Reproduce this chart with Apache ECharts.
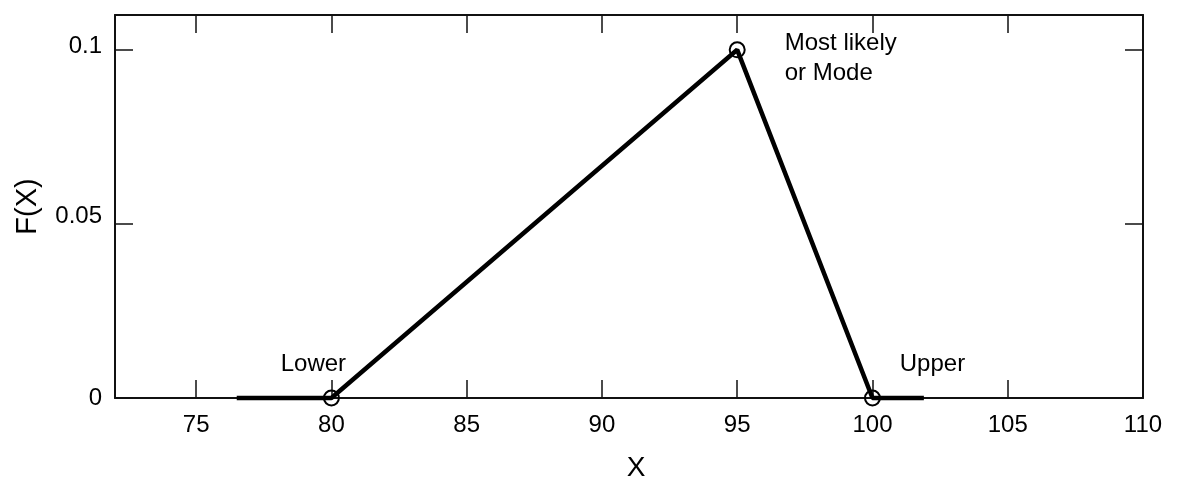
<!DOCTYPE html>
<html><head><meta charset="utf-8">
<script src="https://cdn.jsdelivr.net/npm/echarts@6/dist/echarts.min.js"></script>
<style>html,body{margin:0;padding:0;background:#fff}#c{width:1181px;height:481px}</style>
</head><body><div id="c"></div>
<script>
const xValues = [76.5, 80, 95, 100, 101.9];
const yValues = [0, 0, 0.1, 0, 0];
const pointLabels = ['', 'Lower', 'Most likely\nor Mode', 'Upper', ''];
const xTicks = [75, 80, 85, 90, 95, 100, 105, 110];
const yTicks = [0, 0.05, 0.1];
const yTickLabels = ['0', '0.05', '0.1'];

const font = 'Liberation Sans, Arial, Helvetica, sans-serif';
const labelCfg = [
  null,
  {position: 'top', offset: [-18, -8]},
  {position: 'right', distance: 39, offset: [0, 9], align: 'left', lineHeight: 30},
  {position: 'top', offset: [60, -8]},
  null
];
const data = xValues.map((x, i) => {
  const d = {value: [x, yValues[i]]};
  if (!pointLabels[i]) { d.symbol = 'none'; }
  else {
    d.label = Object.assign({show: true, formatter: pointLabels[i], color: '#000', fontSize: 24, fontFamily: font}, labelCfg[i]);
  }
  return d;
});

const axisLineStyle = {color: '#111', width: 2};
const tickStyle = {color: '#111', width: 1.5};
const chart = echarts.init(document.getElementById('c'));
chart.setOption({
  animation: false,
  grid: {left: 115, right: 38, top: 15, bottom: 83, containLabel: false, outerBoundsMode: 'none'},
  xAxis: [{
    type: 'value', min: 72, max: 110, position: 'bottom',
    axisLine: {show: true, onZero: false, lineStyle: axisLineStyle},
    axisTick: {show: true, inside: true, length: 18, lineStyle: tickStyle, customValues: xTicks},
    axisLabel: {customValues: xTicks, color: '#000', fontSize: 24, fontFamily: font, margin: 15},
    splitLine: {show: false},
    name: 'X', nameLocation: 'middle', nameGap: 56,
    nameTextStyle: {color: '#000', fontSize: 28, fontFamily: font, padding: [0, 0, 0, 14]}
  }, {
    type: 'value', min: 72, max: 110, position: 'top',
    axisLine: {show: true, onZero: false, lineStyle: axisLineStyle},
    axisTick: {show: true, inside: true, length: 18, lineStyle: tickStyle, customValues: xTicks},
    axisLabel: {show: false}, splitLine: {show: false}
  }],
  yAxis: [{
    type: 'value', min: 0, max: 0.11, position: 'left',
    axisLine: {show: true, onZero: false, lineStyle: axisLineStyle},
    axisTick: {show: true, inside: true, length: 18, lineStyle: tickStyle, customValues: yTicks},
    axisLabel: {customValues: yTicks, color: '#000', fontSize: 24, fontFamily: font, margin: 13,
      formatter: v => {
        const i = yTicks.indexOf(v);
        return i < 0 ? '' : '{l' + i + '|' + yTickLabels[i] + '}';
      },
      rich: {
        l0: {fontSize: 24, fontFamily: font, color: '#000', padding: [0, 0, 0, 0]},
        l1: {fontSize: 24, fontFamily: font, color: '#000', padding: [0, 0, 16, 0]},
        l2: {fontSize: 24, fontFamily: font, color: '#000', padding: [0, 0, 6, 0]}
      }
    },
    splitLine: {show: false},
    name: 'F(X)', nameLocation: 'middle', nameGap: 73,
    nameTextStyle: {color: '#000', fontSize: 29, fontFamily: font}
  }, {
    type: 'value', min: 0, max: 0.11, position: 'right',
    axisLine: {show: true, onZero: false, lineStyle: axisLineStyle},
    axisTick: {show: true, inside: true, length: 18, lineStyle: tickStyle, customValues: yTicks},
    axisLabel: {show: false}, splitLine: {show: false}
  }],
  series: [{
    type: 'line', xAxisIndex: 0, yAxisIndex: 0, data: data,
    clip: false,
    symbol: 'circle', symbolSize: 15, showAllSymbol: true,
    lineStyle: {color: '#000', width: 4.5},
    itemStyle: {color: 'rgba(255,255,255,0)', borderColor: '#000', borderWidth: 2}
  }]
});
</script></body></html>
